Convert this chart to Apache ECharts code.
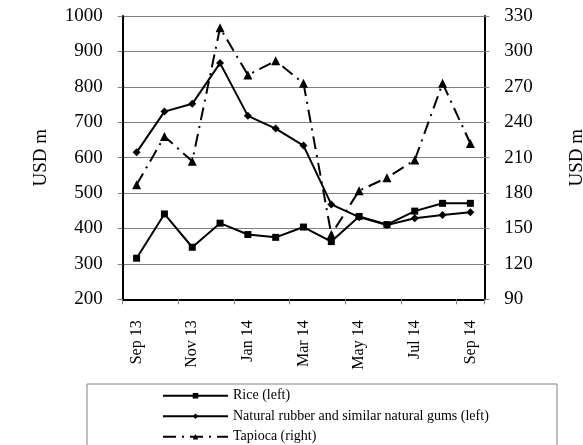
<!DOCTYPE html>
<html>
<head>
<meta charset="utf-8">
<script src="https://cdn.jsdelivr.net/npm/echarts@6/dist/echarts.min.js"></script>
<style>
html,body{margin:0;padding:0;background:#fff;}
#chart{width:583px;height:445px;}
</style>
</head>
<body>
<div id="chart"></div>
<script>
const categories = ['Sep 13','Oct 13','Nov 13','Dec 13','Jan 14','Feb 14','Mar 14','Apr 14','May 14','Jun 14','Jul 14','Aug 14','Sep 14'];
const rice = [316, 441, 347, 415, 383, 375, 404, 363, 434, 411, 449, 471, 471];
const rubber = [615, 730, 752, 867, 718, 682, 634, 468, 432, 410, 429, 438, 446];
const tapioca = [187, 228, 207, 320, 280, 292, 273, 145, 182, 193, 208, 273, 222];
const leftTicks = {min: 200, max: 1000, interval: 100};
const rightTicks = {min: 90, max: 330, interval: 30};
const seriesNames = ['Rice (left)', 'Natural rubber and similar natural gums (left)', 'Tapioca (right)'];

const FONT = '"Liberation Serif", "Times New Roman", serif';
const chart = echarts.init(document.getElementById('chart'), null, {renderer: 'canvas'});

const yCommon = {
  type: 'value',
  name: 'USD m',
  nameLocation: 'middle',
  nameRotate: 90,
  nameTextStyle: {fontFamily: FONT, fontSize: 19, color: '#000'},
  axisLine: {show: true, lineStyle: {color: '#000', width: 2}},
  axisTick: {show: true, length: 5, lineStyle: {color: '#808080', width: 1}},
  axisLabel: {fontFamily: FONT, fontSize: 19, color: '#000', margin: 20, formatter: function (v) { return String(v); }}
};

chart.setOption({
  animation: false,
  backgroundColor: '#fff',
  grid: {left: 122.7, right: 98.7, top: 16, bottom: 145.7, containLabel: false, outerBoundsMode: 'none'},
  graphic: [{
    type: 'rect',
    shape: {x: 87, y: 384, width: 470, height: 80},
    style: {fill: 'none', stroke: '#808080', lineWidth: 1},
    silent: true, z: -1
  }],
  legend: {
    orient: 'vertical',
    left: 162,
    top: 388,
    height: 90,
    padding: 0,
    itemWidth: 65,
    itemHeight: 7,
    itemGap: 5,
    textStyle: {fontFamily: FONT, fontSize: 14, color: '#000', lineHeight: 15.5},
    data: seriesNames
  },
  xAxis: {
    type: 'category',
    data: categories,
    boundaryGap: true,
    axisLine: {lineStyle: {color: '#000', width: 2}},
    axisTick: {show: true, length: 5, interval: 1, lineStyle: {color: '#808080', width: 1}},
    axisLabel: {interval: 1, rotate: 90, fontFamily: FONT, fontSize: 16, color: '#000', margin: 21}
  },
  yAxis: [
    Object.assign({}, yCommon, {
      position: 'left', min: leftTicks.min, max: leftTicks.max, interval: leftTicks.interval,
      nameGap: 72,
      splitLine: {show: true, lineStyle: {color: '#808080', width: 1}}
    }),
    Object.assign({}, yCommon, {
      position: 'right', min: rightTicks.min, max: rightTicks.max, interval: rightTicks.interval,
      nameGap: 83,
      splitLine: {show: false}
    })
  ],
  series: [
    {
      name: seriesNames[0], type: 'line', yAxisIndex: 0, data: rice,
      symbol: 'rect', symbolSize: 7,
      lineStyle: {color: '#000', width: 2},
      itemStyle: {color: '#000'}
    },
    {
      name: seriesNames[1], type: 'line', yAxisIndex: 0, data: rubber,
      symbol: 'diamond', symbolSize: 8,
      lineStyle: {color: '#000', width: 2},
      itemStyle: {color: '#000'}
    },
    {
      name: seriesNames[2], type: 'line', yAxisIndex: 1, data: tapioca,
      symbol: 'triangle', symbolSize: 9,
      lineStyle: {color: '#000', width: 2, type: [13, 6, 2, 6]},
      itemStyle: {color: '#000'}
    }
  ]
});
</script>
</body>
</html>
